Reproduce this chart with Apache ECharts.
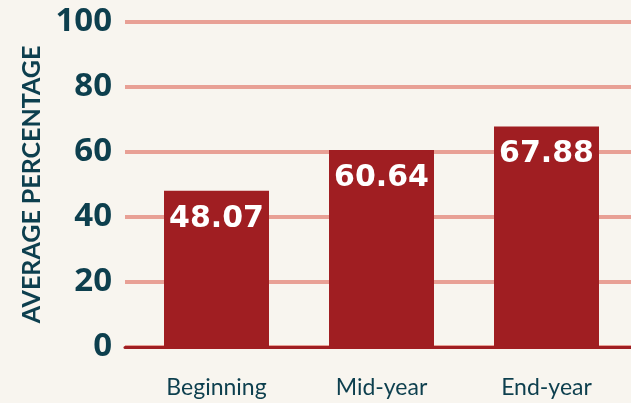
<!DOCTYPE html>
<html>
<head>
<meta charset="utf-8">
<script src="https://cdn.jsdelivr.net/npm/echarts@6/dist/echarts.min.js"></script>
<style>
html,body{margin:0;padding:0;background:#f8f5ef;}
#c{width:631px;height:403px;}
</style>
</head>
<body>
<div id="c"></div>
<script>
const categories = ['Beginning', 'Mid-year', 'End-year'];
const values = [48.07, 60.64, 67.88];
const yTicks = [0, 20, 40, 60, 80, 100];
const yAxisTitle = 'AVERAGE PERCENTAGE';

const teal = '#0d3f4e';
const chart = echarts.init(document.getElementById('c'));
chart.setOption({
  backgroundColor: '#f8f5ef',
  animation: false,
  grid: [
    { left: 125, right: 0, top: 22, bottom: 56 },
    { left: 134, right: 2, top: 22, bottom: 56 }
  ],
  xAxis: [
    { gridIndex: 0, type: 'value', min: 0, max: 1,
      axisLine: { show: true, lineStyle: { color: '#a01e22', width: 3 } },
      axisTick: { show: false }, axisLabel: { show: false }, splitLine: { show: false } },
    { gridIndex: 1, type: 'category', data: categories,
      axisLine: { show: false }, axisTick: { show: false },
      axisLabel: { color: teal, fontFamily: 'Lato', fontSize: 23, margin: 29 } }
  ],
  yAxis: [
    { gridIndex: 0, type: 'value', min: yTicks[0], max: yTicks[yTicks.length - 1], interval: 20,
      name: yAxisTitle, nameLocation: 'middle', nameRotate: 90, nameGap: 80,
      nameTextStyle: { color: teal, fontFamily: 'Lato', fontSize: 25, fontWeight: 'bold' },
      axisLine: { show: false }, axisTick: { show: false },
      axisLabel: { color: teal, fontFamily: 'Open Sans', fontWeight: 'bold', fontSize: 33, margin: 13,
        padding: [7, 0, 0, 0] },
      splitLine: { lineStyle: { color: '#e8a095', width: 4 } } },
    { gridIndex: 1, type: 'value', min: yTicks[0], max: yTicks[yTicks.length - 1],
      show: false, splitLine: { show: false } }
  ],
  series: [{
    type: 'bar', xAxisIndex: 1, yAxisIndex: 1, data: values, barWidth: 105,
    itemStyle: { color: '#a01e22' },
    label: { show: true, position: 'insideTop', distance: 13, color: '#fff',
      fontFamily: 'DejaVu Sans', fontWeight: 'bold', fontSize: 30,
      formatter: p => p.value.toFixed(2) }
  }]
});
</script>
</body>
</html>
